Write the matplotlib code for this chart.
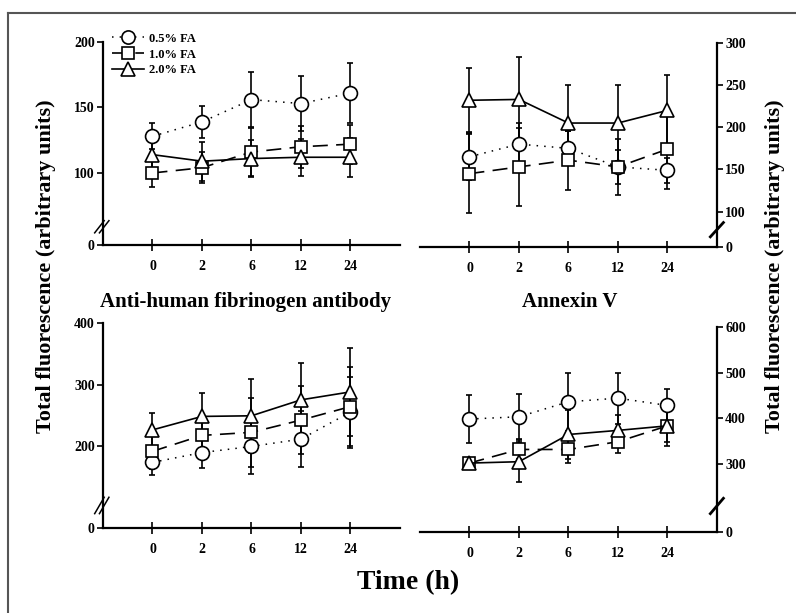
import matplotlib
matplotlib.use('Agg')
import matplotlib.pyplot as plt
from matplotlib.lines import Line2D
import numpy as np

plt.rcParams['font.family'] = ['Liberation Serif', 'DejaVu Serif']
plt.rcParams['font.weight'] = 'bold'

# horas de incubacion (eje x)
horas = ['0', '2', '6', '12', '24']
etiquetas = ['0.5% FA', '1.0% FA', '2.0% FA']

# panel arriba izquierda
ai_circ = [128, 139, 156, 153, 161]
ai_circ_err = [10, 12, 21, 21, 23]
ai_cuad = [100, 104, 116, 120, 122]
ai_cuad_err = [11, 12, 18, 16, 15]
ai_tri = [114, 109, 111, 112, 112]
ai_tri_err = [10, 15, 14, 14, 15]

# panel arriba derecha
ad_circ = [165, 180, 175, 153, 149]
ad_circ_err = [28, 25, 20, 20, 15]
ad_cuad = [145, 153, 161, 153, 174]
ad_cuad_err = [47, 46, 35, 33, 47]
ad_tri = [232, 233, 205, 205, 220]
ad_tri_err = [38, 50, 45, 45, 42]

# panel abajo izquierda
bi_circ = [173, 189, 199, 211, 255]
bi_circ_err = [20, 25, 45, 46, 58]
bi_cuad = [191, 217, 222, 242, 264]
bi_cuad_err = [28, 35, 56, 55, 65]
bi_tri = [226, 248, 249, 275, 288]
bi_tri_err = [27, 38, 60, 60, 72]

# panel abajo derecha
bd_circ = [398, 403, 436, 444, 428]
bd_circ_err = [53, 50, 64, 56, 36]
bd_cuad = [301, 331, 331, 348, 383]
bd_cuad_err = [12, 20, 30, 25, 35]
bd_tri = [301, 304, 364, 373, 383]
bd_tri_err = [10, 44, 55, 35, 45]

fig = plt.figure(figsize=(7.96, 6.13), dpi=100)

x = np.arange(len(horas))


def panel(rect, circ, circ_err, cuad, cuad_err, tri, tri_err,
          ylo, yticks, lado, corte):
    ax = fig.add_axes(rect)
    for v, e in [(circ, circ_err), (cuad, cuad_err), (tri, tri_err)]:
        ax.errorbar(x, v, yerr=e, fmt='none', ecolor='k', elinewidth=1.2,
                    capsize=2.5, capthick=1.2, zorder=2)
    l1, = ax.plot(x, circ, color='k', lw=1.1, dashes=(1, 4), marker='o',
                  ms=10, mfc='white', mec='k', mew=1.2, zorder=3)
    l2, = ax.plot(x, cuad, color='k', lw=1.2, dashes=(9, 5), marker='s',
                  ms=9, mfc='white', mec='k', mew=1.2, zorder=3)
    l3, = ax.plot(x, tri, color='k', lw=1.2, marker='^',
                  ms=10.5, mfc='white', mec='k', mew=1.2, zorder=3)
    ax.set_xlim(-1, 5)
    ax.set_ylim(ylo, yticks[-1])
    ax.set_xticks(x)
    ax.set_xticklabels(horas, fontsize=10)
    ax.set_yticks([ylo] + yticks)
    ax.set_yticklabels(['0'] + [str(t) for t in yticks], fontsize=10)
    ax.tick_params(axis='x', direction='inout', length=8, width=1.2, pad=7)
    ax.tick_params(axis='y', direction='out', length=4, width=1.2, pad=2)
    ax.spines['top'].set_visible(False)
    ax.spines['bottom'].set_linewidth(1.6)
    if lado == 'izq':
        ax.spines['right'].set_visible(False)
        ax.spines['left'].set_linewidth(1.6)
        for dx in (-0.012, 0.004):
            ax.add_line(Line2D([dx - 0.016, dx + 0.016], [corte[0], corte[1]],
                               transform=ax.transAxes, color='k', lw=1.1,
                               clip_on=False))
    else:
        ax.spines['left'].set_visible(False)
        ax.spines['right'].set_linewidth(1.6)
        ax.yaxis.tick_right()
        ax.add_line(Line2D([0.978, 1.022], [corte[0], corte[1]],
                           transform=ax.transAxes, color='k', lw=2.0,
                           clip_on=False))
    return ax, (l1, l2, l3)


ax1, lineas = panel([0.1294, 0.6003, 0.373, 0.3312], ai_circ, ai_circ_err,
                    ai_cuad, ai_cuad_err, ai_tri, ai_tri_err,
                    45, [100, 150, 200], 'izq', (0.06, 0.12))
ax2, _ = panel([0.5276, 0.597, 0.373, 0.333], ad_circ, ad_circ_err,
               ad_cuad, ad_cuad_err, ad_tri, ad_tri_err,
               58, [100, 150, 200, 250, 300], 'der', (0.05, 0.12))
ax3, _ = panel([0.1294, 0.1387, 0.373, 0.334], bi_circ, bi_circ_err,
               bi_cuad, bi_cuad_err, bi_tri, bi_tri_err,
               66, [200, 300, 400], 'izq', (0.07, 0.15))
ax4, _ = panel([0.5276, 0.132, 0.373, 0.334], bd_circ, bd_circ_err,
               bd_cuad, bd_cuad_err, bd_tri, bd_tri_err,
               149, [300, 400, 500, 600], 'der', (0.09, 0.165))

ax1.legend(lineas, etiquetas, loc='upper left', bbox_to_anchor=(0.03, 1.045),
           frameon=False, fontsize=9, handlelength=2.6, handletextpad=0.4,
           labelspacing=0.3, borderpad=0, borderaxespad=0, numpoints=1,
           markerscale=0.95)

fig.text(0.309, 0.507, 'Anti-human fibrinogen antibody', ha='center',
         va='center', fontsize=15, fontweight='bold')
fig.text(0.716, 0.507, 'Annexin V', ha='center', va='center',
         fontsize=15, fontweight='bold')
fig.text(0.058, 0.566, 'Total fluorescence (arbitrary units)', rotation=90,
         ha='center', va='center', fontsize=16, fontweight='bold')
fig.text(0.974, 0.566, 'Total fluorescence (arbitrary units)', rotation=90,
         ha='center', va='center', fontsize=16, fontweight='bold')
fig.text(0.513, 0.049, 'Time (h)', ha='center', va='center',
         fontsize=20, fontweight='bold')

# marco exterior
fig.add_artist(Line2D([0.010, 1.0], [0.979, 0.979], color='#555555', lw=1.5))
fig.add_artist(Line2D([0.010, 0.010], [0.0, 0.979], color='#555555', lw=1.5))

fig.savefig('out.png', dpi=100)
